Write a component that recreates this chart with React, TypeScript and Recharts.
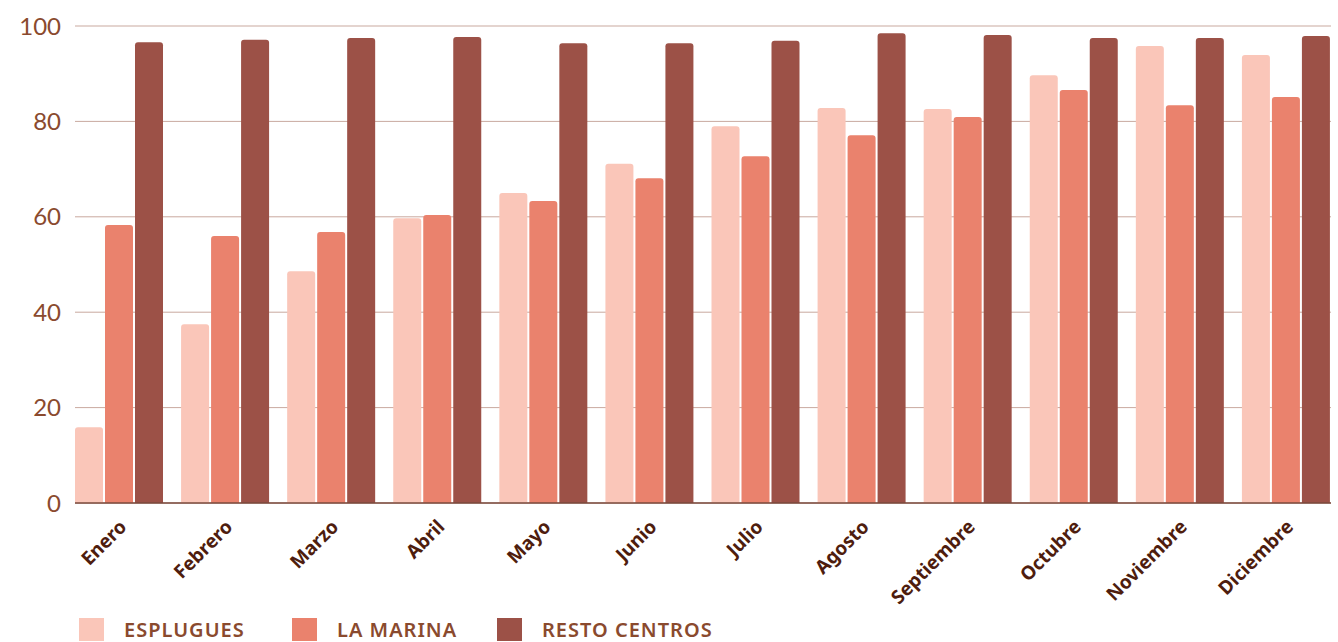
import { BarChart, Bar, XAxis, YAxis, CartesianGrid, Legend } from 'recharts';

const meses = ['Enero', 'Febrero', 'Marzo', 'Abril', 'Mayo', 'Junio', 'Julio', 'Agosto', 'Septiembre', 'Octubre', 'Noviembre', 'Diciembre'];
const esplugues = [15.9, 37.5, 48.6, 59.7, 65.0, 71.1, 79.0, 82.8, 82.6, 89.7, 95.8, 93.9];
const laMarina = [58.3, 56.0, 56.8, 60.4, 63.3, 68.1, 72.7, 77.1, 80.9, 86.6, 83.4, 85.1];
const restoCentros = [96.6, 97.1, 97.5, 97.7, 96.4, 96.4, 96.9, 98.5, 98.1, 97.5, 97.5, 97.9];
const yTicks = [0, 20, 40, 60, 80, 100];

const SERIES = [
    { key: 'esplugues', name: 'ESPLUGUES', color: '#fac6b9' },
    { key: 'laMarina', name: 'LA MARINA', color: '#ea826d' },
    { key: 'resto', name: 'RESTO CENTROS', color: '#9c5147' },
];

const data = meses.map((mes, i) => ({
    mes,
    esplugues: esplugues[i],
    laMarina: laMarina[i],
    resto: restoCentros[i],
}));

const MesTick = (props: any) => {
    const { x, y, payload } = props;
    return (
        <g transform={`translate(${x + 8},${y + 17})`}>
            <text
                textAnchor='end'
                transform='rotate(-45)'
                fill='#4e1d0e'
                fontSize={19}
                fontWeight={700}
                fontFamily='"Noto Sans", sans-serif'
            >
                {payload.value}
            </text>
        </g>
    );
};

const Leyenda = () => (
    <div style={{ height: 39, display: 'flex', alignItems: 'flex-start', paddingLeft: 79, paddingTop: 15, boxSizing: 'border-box' }}>
        {SERIES.map((s) => (
            <div key={s.key} style={{ display: 'flex', alignItems: 'center', flexShrink: 0, whiteSpace: 'nowrap', width: s.key === 'esplugues' ? 213 : s.key === 'laMarina' ? 205 : 260 }}>
                <div style={{ width: 25, height: 23, background: s.color, flexShrink: 0 }}></div>
                <span style={{ marginLeft: 20, color: '#8a4a2e', fontSize: 20, fontWeight: 600, fontFamily: '"Noto Sans", sans-serif', lineHeight: '23px', letterSpacing: 1 }}>
                    {s.name}
                </span>
            </div>
        ))}
    </div>
);

export default function App() {
    return (
        <div style={{ position: 'fixed', top: 0, left: 0, width: 1338, height: 642, background: '#fff', overflow: 'hidden' }}>
            <BarChart
                width={1338}
                height={642}
                data={data}
                margin={{ top: 26, right: 7, bottom: 0, left: 0 }}
                barCategoryGap={8.5}
                barGap={2}
            >
                <CartesianGrid vertical={false} stroke='#c9a99f' strokeWidth={1} />
                <XAxis
                    dataKey='mes'
                    interval={0}
                    height={100}
                    padding={{ left: -8.5, right: -8.5 }}
                    tickLine={false}
                    axisLine={{ stroke: '#7a4a3c', strokeWidth: 1.5 }}
                    tick={<MesTick />}
                />
                <YAxis
                    width={75}
                    domain={[0, 100]}
                    ticks={yTicks}
                    axisLine={false}
                    tickLine={false}
                    tickMargin={8}
                    tick={{ fill: '#8a4a2e', fontSize: 24, fontFamily: 'Lato, sans-serif' }}
                />
                <Legend verticalAlign='bottom' align='left' content={<Leyenda />} />
                {SERIES.map((s) => (
                    <Bar
                        key={s.key}
                        dataKey={s.key}
                        name={s.name}
                        fill={s.color}
                        radius={[3, 3, 0, 0]}
                        isAnimationActive={false}
                    />
                ))}
            </BarChart>
        </div>
    );
}
